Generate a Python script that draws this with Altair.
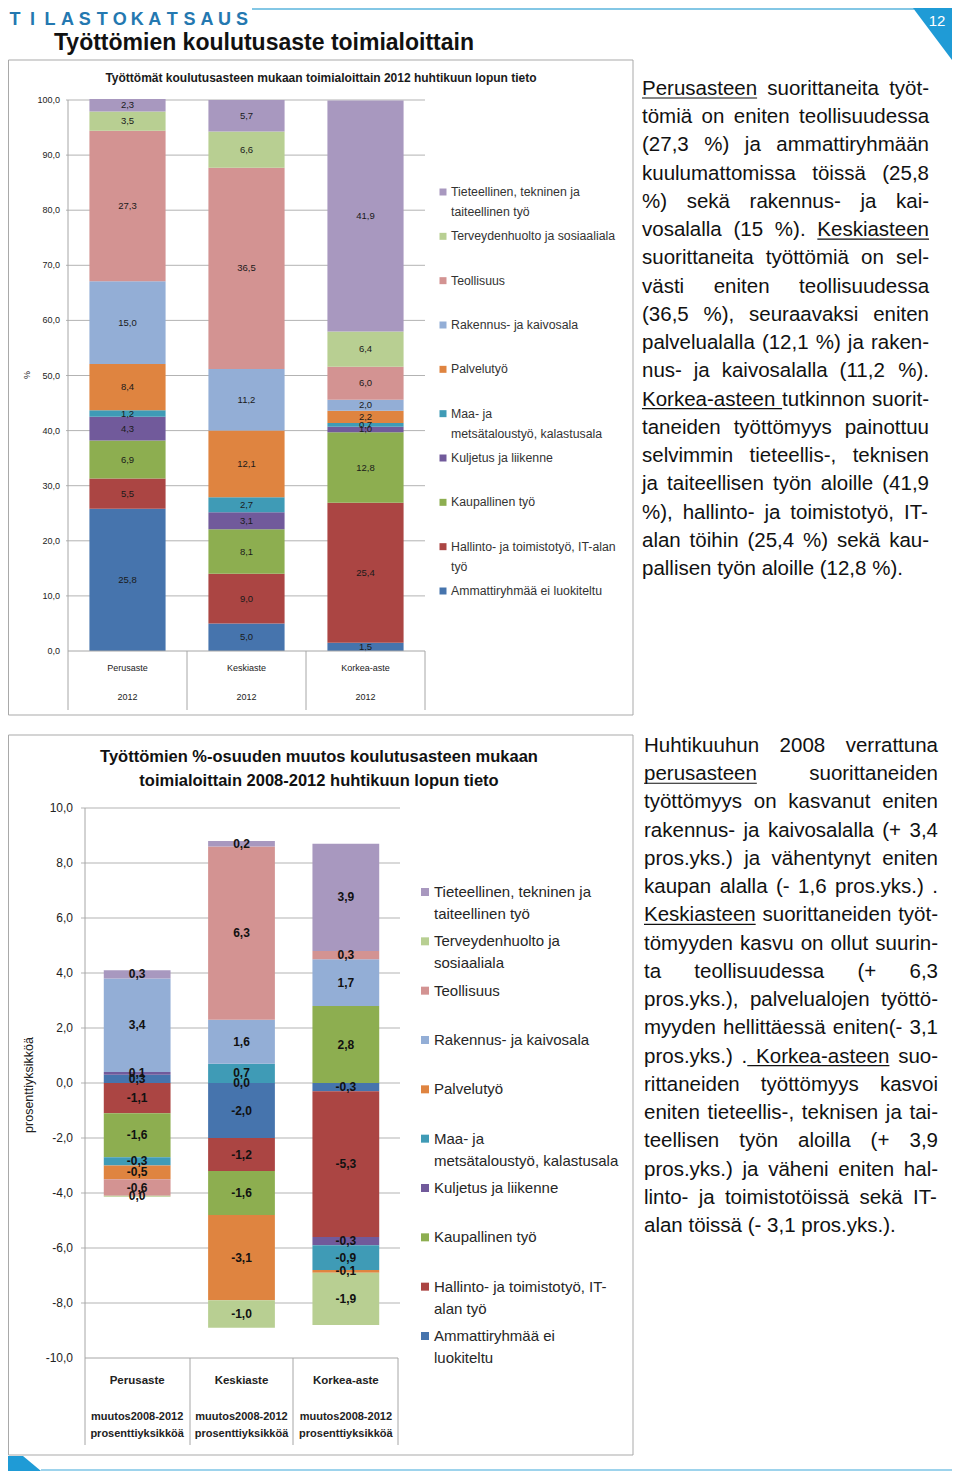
import altair as alt
import pandas as pd

# ---------------- data ----------------
levels = ["Perusaste", "Keskiaste", "Korkea-aste"]
series = [
    "Ammattiryhmää ei luokiteltu",
    "Hallinto- ja toimistotyö, IT-alan työ",
    "Kaupallinen työ",
    "Kuljetus ja liikenne",
    "Maa- ja metsätaloustyö, kalastusala",
    "Palvelutyö",
    "Rakennus- ja kaivosala",
    "Teollisuus",
    "Terveydenhuolto ja sosiaaliala",
    "Tieteellinen, tekninen ja taiteellinen työ",
]
series_colors = ["#4674ad", "#ab4543", "#8dae50", "#715a9b", "#3f9bb6",
                 "#df8440", "#93aed6", "#d39392", "#b8cf92", "#a898bf"]

perusaste_2012 = [25.8, 5.5, 6.9, 4.3, 1.2, 8.4, 15.0, 27.3, 3.5, 2.3]
keskiaste_2012 = [5.0, 9.0, 8.1, 3.1, 2.7, 12.1, 11.2, 36.5, 6.6, 5.7]
korkea_2012 = [1.5, 25.4, 12.8, 1.0, 0.7, 2.2, 2.0, 6.0, 6.4, 41.9]

perusaste_muutos = [0.3, -1.1, -1.6, 0.1, -0.3, -0.5, 3.4, -0.6, -0.04, 0.3]
keskiaste_muutos = [-2.0, -1.2, -1.6, 0.0, 0.7, -3.1, 1.6, 6.3, -1.0, 0.2]
korkea_muutos = [-0.3, -5.3, 2.8, -0.3, -0.9, -0.1, 1.7, 0.3, -1.9, 3.9]

top_ticks = [0, 10, 20, 30, 40, 50, 60, 70, 80, 90, 100]
bottom_ticks = [-10, -8, -6, -4, -2, 0, 2, 4, 6, 8, 10]

top_legend_lines = [
    ["Tieteellinen, tekninen ja", "taiteellinen työ"],
    ["Terveydenhuolto ja sosiaaliala"],
    ["Teollisuus"],
    ["Rakennus- ja kaivosala"],
    ["Palvelutyö"],
    ["Maa- ja", "metsätaloustyö, kalastusala"],
    ["Kuljetus ja liikenne"],
    ["Kaupallinen työ"],
    ["Hallinto- ja toimistotyö, IT-alan", "työ"],
    ["Ammattiryhmää ei luokiteltu"],
]
bottom_legend_lines = [
    ["Tieteellinen, tekninen ja", "taiteellinen työ"],
    ["Terveydenhuolto ja", "sosiaaliala"],
    ["Teollisuus"],
    ["Rakennus- ja kaivosala"],
    ["Palvelutyö"],
    ["Maa- ja", "metsätaloustyö, kalastusala"],
    ["Kuljetus ja liikenne"],
    ["Kaupallinen työ"],
    ["Hallinto- ja toimistotyö, IT-", "alan työ"],
    ["Ammattiryhmää ei", "luokiteltu"],
]

paragraph1 = [
    "Perusasteen suorittaneita työt-",
    "tömiä on eniten teollisuudessa",
    "(27,3 %) ja ammattiryhmään",
    "kuulumattomissa töissä (25,8",
    "%) sekä rakennus- ja kai-",
    "vosalalla (15 %). Keskiasteen",
    "suorittaneita työttömiä on sel-",
    "västi eniten teollisuudessa",
    "(36,5 %), seuraavaksi eniten",
    "palvelualalla (12,1 %) ja raken-",
    "nus- ja kaivosalalla (11,2 %).",
    "Korkea-asteen tutkinnon suorit-",
    "taneiden työttömyys painottuu",
    "selvimmin tieteellis-, teknisen",
    "ja taiteellisen työn aloille (41,9",
    "%), hallinto- ja toimistotyö, IT-",
    "alan töihin (25,4 %) sekä kau-",
    "pallisen työn aloille (12,8 %).",
]
paragraph2 = [
    "Huhtikuuhun 2008 verrattuna",
    "perusasteen suorittaneiden",
    "työttömyys on kasvanut eniten",
    "rakennus- ja kaivosalalla (+ 3,4",
    "pros.yks.) ja vähentynyt eniten",
    "kaupan alalla (- 1,6 pros.yks.) .",
    "Keskiasteen suorittaneiden työt-",
    "tömyyden kasvu on ollut suurin-",
    "ta teollisuudessa (+ 6,3",
    "pros.yks.), palvelualojen työttö-",
    "myyden hellittäessä eniten(- 3,1",
    "pros.yks.) . Korkea-asteen suo-",
    "rittaneiden työttömyys kasvoi",
    "eniten tieteellis-, teknisen ja tai-",
    "teellisen työn aloilla (+ 3,9",
    "pros.yks.) ja väheni eniten hal-",
    "linto- ja toimistotöissä sekä IT-",
    "alan töissä (- 3,1 pros.yks.).",
]
# (line, word, extend_left, extend_right)
underline1 = [(0, 0, False, False), (5, 3, False, False), (11, 0, False, True)]
underline2 = [(1, 0, False, False), (6, 0, False, False), (11, 2, True, False)]

# ---------------- helpers ----------------
FONT = "Liberation Sans, Arial, sans-serif"
W, H = 944, 1463


def P(v):
    return v - 8


def fi(v):
    r = round(v, 1)
    s = f"{abs(r):.1f}".replace(".", ",")
    return ("-" if r < 0 else "") + s


AW = {' ': 278, '%': 889, '(': 333, ')': 333, '+': 584, ',': 278, '-': 333, '.': 278,
      'A': 667, 'B': 667, 'C': 722, 'D': 722, 'E': 667, 'F': 611, 'G': 778, 'H': 722,
      'I': 278, 'J': 500, 'K': 667, 'L': 556, 'M': 833, 'N': 722, 'O': 778, 'P': 667,
      'R': 722, 'S': 667, 'T': 611, 'U': 722, 'V': 667, 'W': 944,
      'a': 556, 'b': 556, 'c': 500, 'd': 556, 'e': 556, 'f': 278, 'g': 556, 'h': 556,
      'i': 222, 'j': 222, 'k': 500, 'l': 222, 'm': 833, 'n': 556, 'o': 556, 'p': 556,
      'q': 556, 'r': 333, 's': 500, 't': 278, 'u': 556, 'v': 500, 'w': 722, 'x': 500,
      'y': 500, 'z': 500, 'ä': 556, 'ö': 556}


def tw(s, fs):
    return sum(AW.get(c, 556) for c in s) * fs / 1000.0


PFS = 20.5
LINE_H = 28.24


def justify(lines, x0, x1, ytop, ul_specs):
    words, unders = [], []
    for i, line in enumerate(lines):
        ws = line.split(" ")
        wd = [tw(w, PFS) for w in ws]
        if i == len(lines) - 1 or len(ws) == 1:
            gap = tw(" ", PFS)
        else:
            gap = (x1 - x0 - sum(wd)) / (len(ws) - 1)
        base = ytop + i * LINE_H + 8
        x = x0
        xs = []
        for w, d in zip(ws, wd):
            xs.append(x)
            words.append(dict(px=P(x), py=P(base), t=w))
            x += d + gap
        for (li, wi, el, er) in ul_specs:
            if li == i:
                a = xs[wi]
                b = xs[wi] + wd[wi]
                if el and wi > 0:
                    a = xs[wi - 1] + wd[wi - 1]
                if er and wi + 1 < len(ws):
                    b = xs[wi + 1]
                unders.append(dict(x=P(a), x2=P(b), y=P(base + 3)))
    return words, unders


color_scale = alt.Scale(domain=series, range=series_colors)

top_x = alt.Scale(domain=levels, range=[P(68), P(425)], paddingInner=0.36, paddingOuter=0.18)
top_y = alt.Scale(domain=[0, 100], range=[P(651), P(100)], nice=False, zero=False)
bot_x = alt.Scale(domain=levels, range=[P(85), P(398)], paddingInner=0.36, paddingOuter=0.18)
bot_y = alt.Scale(domain=[-10, 10], range=[P(1358), P(808)], nice=False, zero=False)


def bar_frame(vals_list):
    rows = []
    for lvl, vals in zip(levels, vals_list):
        for k, (s, v) in enumerate(zip(series, vals)):
            rows.append(dict(cat=lvl, series=s, order=k, value=v, lab=fi(v)))
    return pd.DataFrame(rows)


def stacked(df):
    return (alt.Chart(df)
            .transform_stack(stack="value", groupby=["cat"], as_=["v0", "v1"],
                             sort=[alt.SortField("order", order="ascending")], offset="zero")
            .transform_calculate(mid="(datum.v0 + datum.v1) / 2"))


def px_rules(rows, color="#a6a6a6", width=1.0):
    return alt.Chart(pd.DataFrame(rows)).mark_rule(color=color, strokeWidth=width).encode(
        x=alt.X("x:Q", scale=None), x2="x2:Q",
        y=alt.Y("y:Q", scale=None), y2="y2:Q")


def seg(x1, y1, x2, y2):
    return dict(x=P(x1), y=P(y1), x2=P(x2), y2=P(y2))


layers = []

# ---------------- header ----------------
letters = list("TILASTOKATSAUS")
hdr = pd.DataFrame(dict(i=list(range(len(letters))), t=letters))
layers.append(alt.Chart(hdr).mark_text(font=FONT, fontSize=18, fontWeight="bold", color="#2478b0",
                                       align="center", baseline="alphabetic").encode(
    x=alt.X("i:Q", scale=alt.Scale(domain=[0, 13], range=[7, 234]), axis=None),
    y=alt.value(17), text="t:N"))
layers.append(px_rules([dict(x=244, x2=906, y=1, y2=1)], color="#5ab4dc", width=1.5))
tab = pd.DataFrame(dict(x=[905, 944], y=[0, 0], y2=[0, 52]))
layers.append(alt.Chart(tab).mark_area(color="#1f9bd6").encode(
    x=alt.X("x:Q", scale=None), y=alt.Y("y:Q", scale=None), y2="y2:Q"))
layers.append(alt.Chart(pd.DataFrame(dict(t=["12"]))).mark_text(
    font=FONT, fontSize=15, color="white", align="center", baseline="middle").encode(
    x=alt.value(929), y=alt.value(13), text="t:N"))
layers.append(alt.Chart(pd.DataFrame(dict(t=["Työttömien koulutusaste  toimialoittain"]))).mark_text(
    font=FONT, fontSize=23, fontWeight="bold", color="#111111", align="left", baseline="alphabetic").encode(
    x=alt.value(P(54)), y=alt.value(P(50)), text="t:N"))
foot = pd.DataFrame(dict(x=[0, 15, 33], y=[1448, 1448, 1463], y2=[1463, 1463, 1463]))
layers.append(alt.Chart(foot).mark_area(color="#1f9bd6").encode(
    x=alt.X("x:Q", scale=None), y=alt.Y("y:Q", scale=None), y2="y2:Q"))
layers.append(px_rules([dict(x=33, x2=944, y=1462, y2=1462)], color="#7cc5e6", width=1.5))

# ---------------- boxes ----------------
boxes = pd.DataFrame([dict(x=0.5, x2=P(633), y=P(60), y2=P(715)),
                      dict(x=0.5, x2=P(633), y=P(735), y2=P(1455))])
layers.append(alt.Chart(boxes).mark_rect(filled=False, color="#a9a9a9", strokeWidth=1).encode(
    x=alt.X("x:Q", scale=None), x2="x2:Q", y=alt.Y("y:Q", scale=None), y2="y2:Q"))

# ---------------- top chart ----------------
top_df = bar_frame([perusaste_2012, keskiaste_2012, korkea_2012])
tick_top = pd.DataFrame(dict(v=top_ticks, lab=[fi(t) for t in top_ticks]))
layers.append(alt.Chart(tick_top[tick_top.v > 0]).mark_rule(color="#b3b3b3", strokeWidth=1).encode(
    y=alt.Y("v:Q", scale=top_y, axis=None), x=alt.value(P(66)), x2=alt.value(P(425))))
layers.append(stacked(top_df).mark_bar().encode(
    x=alt.X("cat:N", scale=top_x, axis=None),
    y=alt.Y("v0:Q", scale=top_y, axis=None), y2="v1:Q",
    color=alt.Color("series:N", scale=color_scale, legend=None)))
layers.append(stacked(top_df).mark_text(font=FONT, fontSize=9.5, color="#1a1a1a", baseline="middle").encode(
    x=alt.X("cat:N", scale=top_x, axis=None),
    y=alt.Y("mid:Q", scale=top_y, axis=None), text="lab:N"))
layers.append(px_rules([seg(68, 100, 68, 710), seg(68, 651, 425, 651), seg(187, 651, 187, 710),
                        seg(306, 651, 306, 710), seg(425, 651, 425, 710)], color="#a6a6a6"))
layers.append(alt.Chart(tick_top).mark_text(font=FONT, fontSize=9, color="#222222", align="right",
                                            baseline="middle").encode(
    y=alt.Y("v:Q", scale=top_y, axis=None), x=alt.value(P(60)), text="lab:N"))
cats = pd.DataFrame(dict(cat=levels))
layers.append(alt.Chart(cats).mark_text(font=FONT, fontSize=9, color="#222222", baseline="middle").encode(
    x=alt.X("cat:N", scale=top_x, axis=None), y=alt.value(P(668)), text="cat:N"))
layers.append(alt.Chart(cats).mark_text(font=FONT, fontSize=9, color="#222222", baseline="middle").encode(
    x=alt.X("cat:N", scale=top_x, axis=None), y=alt.value(P(697)), text=alt.value("2012")))
layers.append(alt.Chart(pd.DataFrame(dict(t=["%"]))).mark_text(
    font=FONT, fontSize=9, color="#222222", angle=270, baseline="middle").encode(
    x=alt.value(P(27)), y=alt.value(P(375)), text="t:N"))
layers.append(alt.Chart(pd.DataFrame(dict(t=[
    "Työttömät koulutusasteen mukaan toimialoittain 2012 huhtikuun lopun tieto"]))).mark_text(
    font=FONT, fontSize=12, fontWeight="bold", color="#1a1a1a", baseline="middle").encode(
    x=alt.value(P(321)), y=alt.value(P(78)), text="t:N"))

# legend (top)
leg1 = pd.DataFrame([dict(i=i, series=series[9 - i], l0=ls[0], l1=(ls[1] if len(ls) > 1 else ""))
                     for i, ls in enumerate(top_legend_lines)])
leg1_y = alt.Scale(domain=[0, 9], range=[P(192), P(591)])
layers.append(alt.Chart(leg1).mark_square(size=49, opacity=1).encode(
    x=alt.value(P(443)), y=alt.Y("i:Q", scale=leg1_y, axis=None),
    color=alt.Color("series:N", scale=color_scale, legend=None)))
layers.append(alt.Chart(leg1).mark_text(font=FONT, fontSize=12.3, color="#333333", align="left",
                                        baseline="middle").encode(
    x=alt.value(P(451)), y=alt.Y("i:Q", scale=leg1_y, axis=None), text="l0:N"))
layers.append(alt.Chart(leg1).mark_text(font=FONT, fontSize=12.3, color="#333333", align="left",
                                        baseline="middle", dy=20).encode(
    x=alt.value(P(451)), y=alt.Y("i:Q", scale=leg1_y, axis=None), text="l1:N"))

# ---------------- bottom chart ----------------
bot_df = bar_frame([perusaste_muutos, keskiaste_muutos, korkea_muutos])
tick_bot = pd.DataFrame(dict(v=bottom_ticks, lab=[fi(t) for t in bottom_ticks]))
layers.append(alt.Chart(tick_bot[tick_bot.v > -10]).mark_rule(color="#b3b3b3", strokeWidth=1).encode(
    y=alt.Y("v:Q", scale=bot_y, axis=None), x=alt.value(P(81)), x2=alt.value(P(400))))
layers.append(stacked(bot_df).mark_bar().encode(
    x=alt.X("cat:N", scale=bot_x, axis=None),
    y=alt.Y("v0:Q", scale=bot_y, axis=None), y2="v1:Q",
    color=alt.Color("series:N", scale=color_scale, legend=None)))
layers.append(stacked(bot_df).mark_text(font=FONT, fontSize=12, fontWeight="bold", color="#111111",
                                        baseline="middle").encode(
    x=alt.X("cat:N", scale=bot_x, axis=None),
    y=alt.Y("mid:Q", scale=bot_y, axis=None), text="lab:N"))
layers.append(px_rules([seg(85, 808, 85, 1445), seg(85, 1358, 398, 1358), seg(190, 1358, 190, 1445),
                        seg(293, 1358, 293, 1445), seg(398, 1358, 398, 1445)], color="#a6a6a6"))
layers.append(alt.Chart(tick_bot).mark_text(font=FONT, fontSize=12, color="#222222", align="right",
                                            baseline="middle").encode(
    y=alt.Y("v:Q", scale=bot_y, axis=None), x=alt.value(P(73)), text="lab:N"))
layers.append(alt.Chart(cats).mark_text(font=FONT, fontSize=11.5, fontWeight="bold", color="#222222",
                                        baseline="middle").encode(
    x=alt.X("cat:N", scale=bot_x, axis=None), y=alt.value(P(1381)), text="cat:N"))
layers.append(alt.Chart(cats).mark_text(font=FONT, fontSize=11, fontWeight="bold", color="#222222",
                                        baseline="middle").encode(
    x=alt.X("cat:N", scale=bot_x, axis=None), y=alt.value(P(1417)), text=alt.value("muutos2008-2012")))
layers.append(alt.Chart(cats).mark_text(font=FONT, fontSize=11, fontWeight="bold", color="#222222",
                                        baseline="middle").encode(
    x=alt.X("cat:N", scale=bot_x, axis=None), y=alt.value(P(1434)), text=alt.value("prosenttiyksikköä")))
layers.append(alt.Chart(pd.DataFrame(dict(t=["prosenttiyksikköä"]))).mark_text(
    font=FONT, fontSize=12.5, color="#222222", angle=270, baseline="middle").encode(
    x=alt.value(P(29)), y=alt.value(P(1085)), text="t:N"))
btitle = pd.DataFrame(dict(t=["Työttömien %-osuuden muutos koulutusasteen mukaan",
                              "toimialoittain 2008-2012 huhtikuun lopun tieto"],
                           yy=[P(757), P(781)]))
layers.append(alt.Chart(btitle).mark_text(font=FONT, fontSize=16.5, fontWeight="bold", color="#111111",
                                          baseline="middle").encode(
    x=alt.value(P(319)), y=alt.Y("yy:Q", scale=None), text="t:N"))

# legend (bottom)
leg2 = pd.DataFrame([dict(i=i, series=series[9 - i], l0=ls[0], l1=(ls[1] if len(ls) > 1 else ""))
                     for i, ls in enumerate(bottom_legend_lines)])
leg2_y = alt.Scale(domain=[0, 9], range=[P(892), P(1336)])
layers.append(alt.Chart(leg2).mark_square(size=64, opacity=1).encode(
    x=alt.value(P(425)), y=alt.Y("i:Q", scale=leg2_y, axis=None),
    color=alt.Color("series:N", scale=color_scale, legend=None)))
layers.append(alt.Chart(leg2).mark_text(font=FONT, fontSize=15, color="#262626", align="left",
                                        baseline="middle").encode(
    x=alt.value(P(434)), y=alt.Y("i:Q", scale=leg2_y, axis=None), text="l0:N"))
layers.append(alt.Chart(leg2).mark_text(font=FONT, fontSize=15, color="#262626", align="left",
                                        baseline="middle", dy=22).encode(
    x=alt.value(P(434)), y=alt.Y("i:Q", scale=leg2_y, axis=None), text="l1:N"))

# ---------------- paragraphs ----------------
w1, u1 = justify(paragraph1, 642, 929, 87, underline1)
w2, u2 = justify(paragraph2, 644, 938, 744, underline2)
words = pd.DataFrame(w1 + w2)
unders = pd.DataFrame(u1 + u2)
layers.append(alt.Chart(words).mark_text(font=FONT, fontSize=PFS, color="#111111", align="left",
                                         baseline="alphabetic").encode(
    x=alt.X("px:Q", scale=None), y=alt.Y("py:Q", scale=None), text="t:N"))
layers.append(alt.Chart(unders).mark_rule(color="#111111", strokeWidth=1.2).encode(
    x=alt.X("x:Q", scale=None), x2="x2:Q", y=alt.Y("y:Q", scale=None)))

chart = (alt.layer(*layers)
         .resolve_scale(x="independent", y="independent")
         .properties(width=W, height=H, padding=0, autosize="none", background="white")
         .configure_view(stroke=None))

chart.save("out.html", embed_options={"renderer": "svg", "actions": False})
